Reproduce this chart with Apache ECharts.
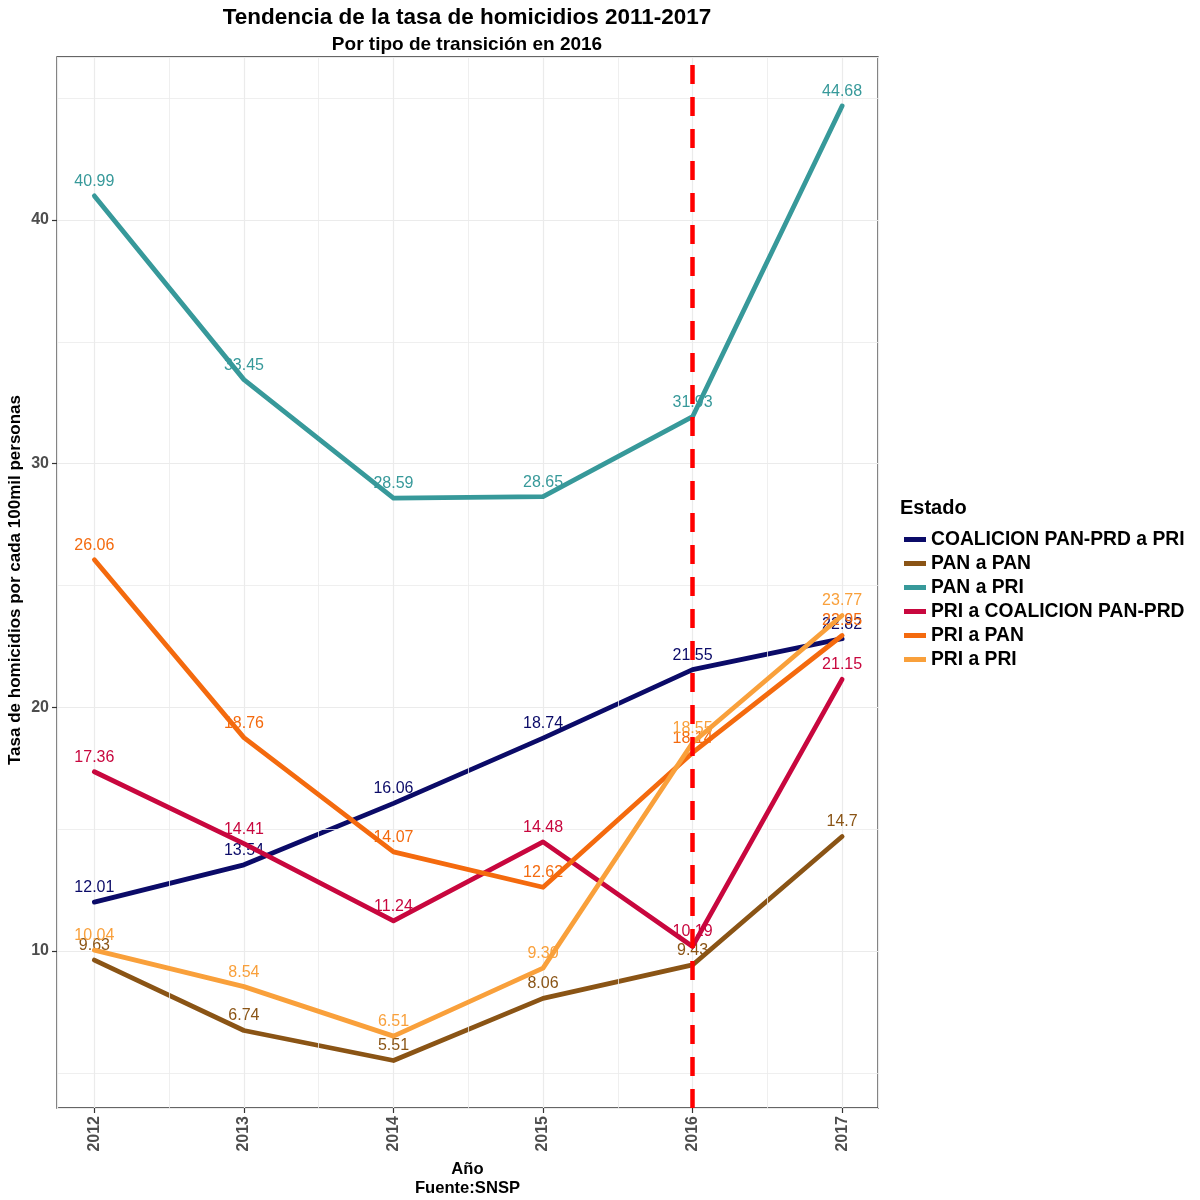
<!DOCTYPE html>
<html><head><meta charset="utf-8">
<script src="https://cdn.jsdelivr.net/npm/echarts@6/dist/echarts.min.js"></script>
<style>html,body{margin:0;padding:0;background:#fff}#c{width:1200px;height:1200px}</style>
</head><body><div id="c"></div>
<script>
const years = [2012, 2013, 2014, 2015, 2016, 2017];
const seriesNames = ['COALICION PAN-PRD a PRI','PAN a PAN','PAN a PRI','PRI a COALICION PAN-PRD','PRI a PAN','PRI a PRI'];
const coalicionPanPrdAPri = [12.01, 13.54, 16.06, 18.74, 21.55, 22.82];
const panAPan = [9.63, 6.74, 5.51, 8.06, 9.43, 14.7];
const panAPri = [40.99, 33.45, 28.59, 28.65, 31.93, 44.68];
const priACoalicion = [17.36, 14.41, 11.24, 14.48, 10.19, 21.15];
const priAPan = [26.06, 18.76, 14.07, 12.62, 18.14, 22.95];
const priAPri = [10.04, 8.54, 6.51, 9.30, 18.55, 23.77];
const labelOverrides = {'PRI a PRI|2015': '9.30'};
const colors = ['#0b0b68','#8a5415','#37999a','#c8073e','#f46a0e','#f9a03b'];
const yMajorTicks = [10, 20, 30, 40];
const yMinorGrid = [5, 15, 25, 35, 45];
const xMinorGrid = [2012.5, 2013.5, 2014.5, 2015.5, 2016.5];
const transitionYear = 2016;

const allValues = [coalicionPanPrdAPri, panAPan, panAPri, priACoalicion, priAPan, priAPri];
const FONT = 'Liberation Sans, Arial, sans-serif';

const lineSeries = seriesNames.map((name, i) => ({
  name: name,
  type: 'line',
  data: years.map((y, j) => [y, allValues[i][j]]),
  color: colors[i],
  lineStyle: {width: 4.8, color: colors[i], cap: 'round', join: 'round'},
  symbol: 'circle',
  symbolSize: 1,
  showSymbol: true,
  itemStyle: {color: colors[i]},
  z: 3 + i,
  label: {
    show: true, position: 'top', distance: 6,
    color: colors[i], fontSize: 16, fontFamily: FONT,
    formatter: p => labelOverrides[name + '|' + p.value[0]] || String(p.value[1])
  },
  emphasis: {disabled: true}
}));

const gridSeries = {
  name: '_grid', type: 'line', data: [], z: 1, silent: true,
  markLine: {
    silent: true, symbol: 'none', label: {show: false},
    lineStyle: {color: '#ebebeb', width: 0.8, type: 'solid'},
    data: yMinorGrid.map(v => ({yAxis: v})).concat(xMinorGrid.map(v => ({xAxis: v})))
  }
};
const vlineSeries = {
  name: '_vline', type: 'line', data: [], z: 20, silent: true,
  markLine: {
    silent: true, symbol: 'none', label: {show: false}, z: 20,
    lineStyle: {color: '#ff0000', width: 4.5, type: [19, 13]},
    data: [{xAxis: transitionYear}]
  }
};

const chart = echarts.init(document.getElementById('c'));
chart.setOption({
  animation: false,
  backgroundColor: '#ffffff',
  textStyle: {fontFamily: FONT},
  title: {
    text: 'Tendencia de la tasa de homicidios 2011-2017',
    subtext: 'Por tipo de transición en 2016',
    left: 467, top: 6, textAlign: 'center', padding: 0, itemGap: 6,
    textStyle: {fontSize: 22.5, fontWeight: 'bold', color: '#000', fontFamily: FONT},
    subtextStyle: {fontSize: 19, fontWeight: 'bold', color: '#000', fontFamily: FONT}
  },
  legend: {
    data: seriesNames,
    orient: 'vertical', left: 899, top: 525,
    icon: 'rect', itemWidth: 22, itemHeight: 5, itemGap: 5,
    textStyle: {fontSize: 19.3, fontWeight: 'bold', color: '#000', fontFamily: FONT, lineHeight: 19},
    selectedMode: false
  },
  graphic: [{
    type: 'text', left: 900, top: 498,
    style: {text: 'Estado', fontSize: 20, fontWeight: 'bold', fill: '#000', fontFamily: FONT}
  }, {
    type: 'text', x: 15, y: 580, rotation: Math.PI / 2,
    style: {text: 'Tasa de homicidios por cada 100mil personas', fontSize: 17, fontWeight: 'bold',
            fill: '#000', fontFamily: FONT, align: 'center', verticalAlign: 'middle'}
  }],
  grid: {left: 57, right: 322, top: 57, bottom: 92, show: true, borderColor: '#333333', borderWidth: 1.3,
         containLabel: false, outerBoundsMode: 'none'},
  xAxis: {
    type: 'value', min: 2011.75, max: 2017.24, splitNumber: 5,
    name: 'Año\nFuente:SNSP', nameLocation: 'middle', nameGap: 49,
    nameTextStyle: {fontSize: 16.6, fontWeight: 'bold', color: '#000', lineHeight: 19, fontFamily: FONT},
    axisLine: {show: false},
    axisTick: {show: true, length: 5, lineStyle: {color: '#333', width: 1.2}},
    splitLine: {show: true, lineStyle: {color: '#ebebeb', width: 1.2}},
    axisLabel: {
      rotate: 90, fontSize: 16, fontWeight: 'bold', color: '#4d4d4d', margin: 8,
      showMinLabel: false, showMaxLabel: false,
      formatter: v => (years.indexOf(v) >= 0 ? String(v) : '')
    }
  },
  yAxis: {
    type: 'value', min: 3.56, max: 46.69, splitNumber: 4,
    axisLine: {show: false},
    axisTick: {show: true, length: 5, lineStyle: {color: '#333', width: 1.2}},
    splitLine: {show: true, lineStyle: {color: '#ebebeb', width: 1.2}},
    axisLabel: {
      fontSize: 16, fontWeight: 'bold', color: '#4d4d4d', margin: 8,
      showMinLabel: false, showMaxLabel: false,
      formatter: v => (yMajorTicks.indexOf(v) >= 0 ? String(v) : '')
    }
  },
  series: [gridSeries].concat(lineSeries).concat([vlineSeries])
});
</script></body></html>
